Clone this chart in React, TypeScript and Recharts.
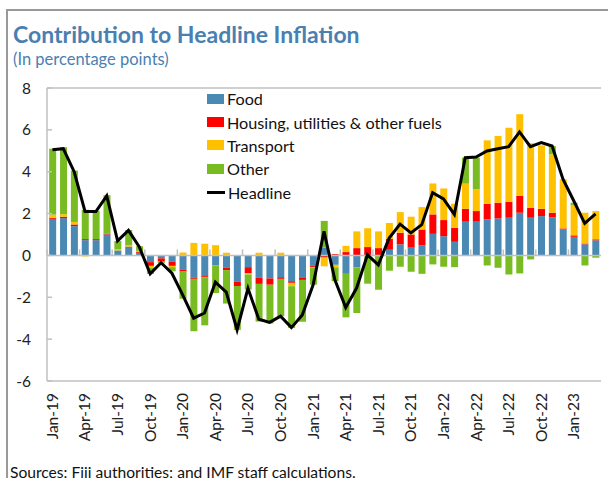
import React from "react";
import { ComposedChart, Bar, Line, XAxis, YAxis, ReferenceLine, Legend } from "recharts";

const months = [
  "Jan-19", "Feb-19", "Mar-19", "Apr-19", "May-19", "Jun-19", "Jul-19", "Aug-19", "Sep-19", "Oct-19", "Nov-19", "Dec-19",
  "Jan-20", "Feb-20", "Mar-20", "Apr-20", "May-20", "Jun-20", "Jul-20", "Aug-20", "Sep-20", "Oct-20", "Nov-20", "Dec-20",
  "Jan-21", "Feb-21", "Mar-21", "Apr-21", "May-21", "Jun-21", "Jul-21", "Aug-21", "Sep-21", "Oct-21", "Nov-21", "Dec-21",
  "Jan-22", "Feb-22", "Mar-22", "Apr-22", "May-22", "Jun-22", "Jul-22", "Aug-22", "Sep-22", "Oct-22", "Nov-22", "Dec-22",
  "Jan-23", "Feb-23", "Mar-23",
];

const food = [
  1.75, 1.78, 1.4, 0.73, 0.73, 1.0, 0.24, 0.41, 0.12, -0.32, -0.14, -0.3,
  -0.67, -1.07, -0.99, -0.48, -0.59, -1.26, -0.56, -1.07, -1.1, -1.04, -1.23, -1.05,
  -0.5, 0.37, -0.45, -0.88, -0.57, -0.05, 0, 0.27, 0.53, 0.37, 0.49, 1.03,
  0.92, 0.65, 1.61, 1.61, 1.72, 1.77, 1.8, 2.04, 1.8, 1.88, 1.83, 1.24,
  0.89, 0.53, 0.72,
];

const housing = [
  0.05, 0.07, 0.08, 0.05, 0.05, 0.03, 0.0, 0.02, 0.04, -0.18, -0.16, -0.2,
  -0.1, -0.05, -0.05, 0, -0.11, -0.2, -0.3, -0.29, -0.3, -0.08, -0.08, -0.12,
  -0.05, -0.1, 0.06, 0.16, 0.35, 0.4, 0.35, 0.53, 0.55, 0.63, 0.75, 0.93,
  0.77, 0.67, 0.62, 0.51, 0.75, 0.75, 0.77, 0.8, 0.48, 0.35, 0.21, 0.05,
  0.07, 0.04, 0.05,
];

const transport = [
  0.15, 0.12, 0.12, -0.05, 0, 0, 0.05, 0.06, 0.06, -0.1, -0.02, -0.06,
  0.14, 0.6, 0.56, 0.49, 0.13, 0, -0.05, 0.13, 0, 0.13, -0.16, 0,
  -0.05, -0.42, -0.12, 0.3, 0.8, 0.9, 0.8, 0.75, 0.99, 0.85, 1.07, 1.48,
  1.51, 1.15, 1.2, 1.04, 3.03, 3.19, 3.53, 3.91, 3.08, 3.03, 2.79, 2.35,
  1.45, 1.47, 1.35,
];

const other = [
  3.15, 3.2, 2.45, 1.4, 1.35, 1.85, 0.4, 0.73, 0.22, -0.28, -0.05, -0.2,
  -1.3, -2.5, -2.3, -1.32, -1.6, -2.1, -0.72, -1.8, -1.85, -1.78, -2.0, -2.0,
  -0.8, 1.28, -0.66, -2.08, -2.18, -1.3, -1.64, -0.73, -0.54, -0.78, -0.88, -0.43,
  -0.54, -0.56, 1.24, 1.51, -0.48, -0.59, -0.91, -0.86, -0.19, 0, 0.4, 0,
  0.11, -0.48, -0.11,
];

const headline = [
  5.05, 5.1, 4.0, 2.1, 2.1, 2.85, 0.7, 1.2, 0.4, -0.88, -0.35, -0.85,
  -1.9, -3.0, -2.75, -1.28, -1.75, -3.55, -1.57, -3.05, -3.2, -2.9, -3.45, -2.85,
  -1.4, 1.15, -1.16, -2.49, -1.56, 0.03, -0.45, 0.83, 1.5, 1.08, 1.47, 3.0,
  2.7, 1.96, 4.67, 4.7, 4.99, 5.1, 5.2, 5.9, 5.2, 5.39, 5.23, 3.64,
  2.6, 1.53, 1.99,
];

const yTicks = [8, 6, 4, 2, 0, -2, -4, -6];

const seriesNames = {
  food: "Food",
  housing: "Housing, utilities & other fuels",
  transport: "Transport",
  other: "Other",
  headline: "Headline",
};

const COLORS = {
  food: "#4a89b4",
  housing: "#ff0000",
  transport: "#ffc000",
  other: "#78bc22",
  headline: "#000000",
};

const data = months.map((m, i) => ({
  month: m,
  food: food[i],
  housing: housing[i],
  transport: transport[i],
  other: other[i],
  headline: headline[i],
}));

const FONT = "Lato, 'Open Sans', sans-serif";
const CHART_W = 608;
const CHART_H = 478;
const MARGIN = { top: 88, right: 7, left: 0, bottom: 0 };
const Y_AXIS_W = 47;
const X_AXIS_H = 97;
const PLOT_W = CHART_W - MARGIN.left - MARGIN.right - Y_AXIS_W;
const PLOT_H = CHART_H - MARGIN.top - MARGIN.bottom - X_AXIS_H;
const Y_MAX = 8;
const Y_MIN = -6;
const ZERO_Y = MARGIN.top + (PLOT_H * Y_MAX) / (Y_MAX - Y_MIN);
const BAND = PLOT_W / months.length;
const AXIS_GRAY = "#c0c0c0";

const XTick = (props: any) => {
  const { x, y, payload } = props;
  const bx = x - BAND / 2;
  return (
    <g>
      <line x1={bx} x2={bx} y1={ZERO_Y} y2={ZERO_Y - 6} stroke={AXIS_GRAY} strokeWidth={1.5} />
      <text
        x={x}
        y={y}
        transform={`rotate(-90, ${x}, ${y})`}
        textAnchor="end"
        dy="0.35em"
        fontSize={15.5}
        fill="#222"
        fontFamily={FONT}
      >
        {payload.value}
      </text>
    </g>
  );
};

const LegendContent = () => {
  const keys = ["food", "housing", "transport", "other", "headline"] as const;
  return (
    <div style={{ fontFamily: FONT, fontSize: 16.2, color: "#111", textAlign: "left" }}>
      {keys.map((k) => (
        <div key={k} style={{ display: "flex", alignItems: "center", height: 23.4 }}>
          {k === "headline" ? (
            <span style={{ display: "inline-block", width: 18, height: 3, background: COLORS[k], marginRight: 3 }} />
          ) : (
            <span style={{ display: "inline-block", width: 17, height: 10, background: COLORS[k], marginRight: 3 }} />
          )}
          <span style={{ whiteSpace: "nowrap" }}>{seriesNames[k]}</span>
        </div>
      ))}
    </div>
  );
};

export default function App() {
  return (
    <div
      style={{
        position: "absolute",
        left: 0,
        top: 0,
        width: CHART_W,
        height: CHART_H,
        overflow: "hidden",
        background: "#fff",
        fontFamily: FONT,
      }}
    >
      <div
        style={{
          position: "absolute",
          left: 6,
          top: 9,
          right: -5,
          bottom: -5,
          borderTop: "2px solid #999",
          borderLeft: "2px solid #999",
        }}
      />
      <div
        style={{
          position: "absolute",
          left: 13,
          top: 20,
          fontSize: 23,
          fontWeight: 700,
          color: "#4a7fb2",
          lineHeight: "28px",
          whiteSpace: "nowrap",
        }}
      >
        Contribution to Headline Inflation
      </div>
      <div
        style={{
          position: "absolute",
          left: 13,
          top: 49,
          fontSize: 16.5,
          color: "#4a7fb2",
          lineHeight: "20px",
          whiteSpace: "nowrap",
        }}
      >
        (In percentage points)
      </div>
      <div style={{ position: "absolute", left: 0, top: 0 }}>
        <ComposedChart
          width={CHART_W}
          height={CHART_H}
          data={data}
          margin={MARGIN}
          stackOffset="sign"
          barCategoryGap="20%"
        >
          <XAxis
            dataKey="month"
            interval={2}
            tickLine={false}
            tickSize={0}
            tickMargin={12}
            height={X_AXIS_H}
            axisLine={{ stroke: AXIS_GRAY, strokeWidth: 1.5 }}
            tick={<XTick />}
          />
          <YAxis
            domain={[Y_MIN, Y_MAX]}
            ticks={yTicks}
            interval={0}
            width={Y_AXIS_W}
            tickSize={-5}
            tickMargin={21}
            axisLine={{ stroke: AXIS_GRAY, strokeWidth: 1.5 }}
            tickLine={{ stroke: AXIS_GRAY, strokeWidth: 1.5 }}
            tick={{ fontSize: 15.5, fill: "#222", fontFamily: FONT }}
          />
          <YAxis
            yAxisId="right"
            orientation="right"
            width={0}
            domain={[Y_MIN, Y_MAX]}
            tick={false}
            tickLine={false}
            axisLine={{ stroke: AXIS_GRAY, strokeWidth: 1.5 }}
          />
          <ReferenceLine y={Y_MAX} stroke={AXIS_GRAY} strokeWidth={1.5} />
          <ReferenceLine y={0} stroke={AXIS_GRAY} strokeWidth={1.5} />
          <Bar dataKey="food" name={seriesNames.food} stackId="a" fill={COLORS.food} isAnimationActive={false} />
          <Bar dataKey="housing" name={seriesNames.housing} stackId="a" fill={COLORS.housing} isAnimationActive={false} />
          <Bar dataKey="transport" name={seriesNames.transport} stackId="a" fill={COLORS.transport} isAnimationActive={false} />
          <Bar dataKey="other" name={seriesNames.other} stackId="a" fill={COLORS.other} isAnimationActive={false} />
          <Line
            dataKey="headline"
            name={seriesNames.headline}
            stroke={COLORS.headline}
            strokeWidth={3}
            dot={false}
            isAnimationActive={false}
          />
          <Legend
            layout="vertical"
            verticalAlign="middle"
            align="center"
            wrapperStyle={{ left: 207, top: 87, width: 270 }}
            content={<LegendContent />}
          />
        </ComposedChart>
      </div>
      <div
        style={{
          position: "absolute",
          left: 10,
          top: 463,
          fontSize: 15.6,
          color: "#111",
          lineHeight: "18px",
          whiteSpace: "nowrap",
        }}
      >
        Sources: Fiji authorities; and IMF staff calculations.
      </div>
    </div>
  );
}
